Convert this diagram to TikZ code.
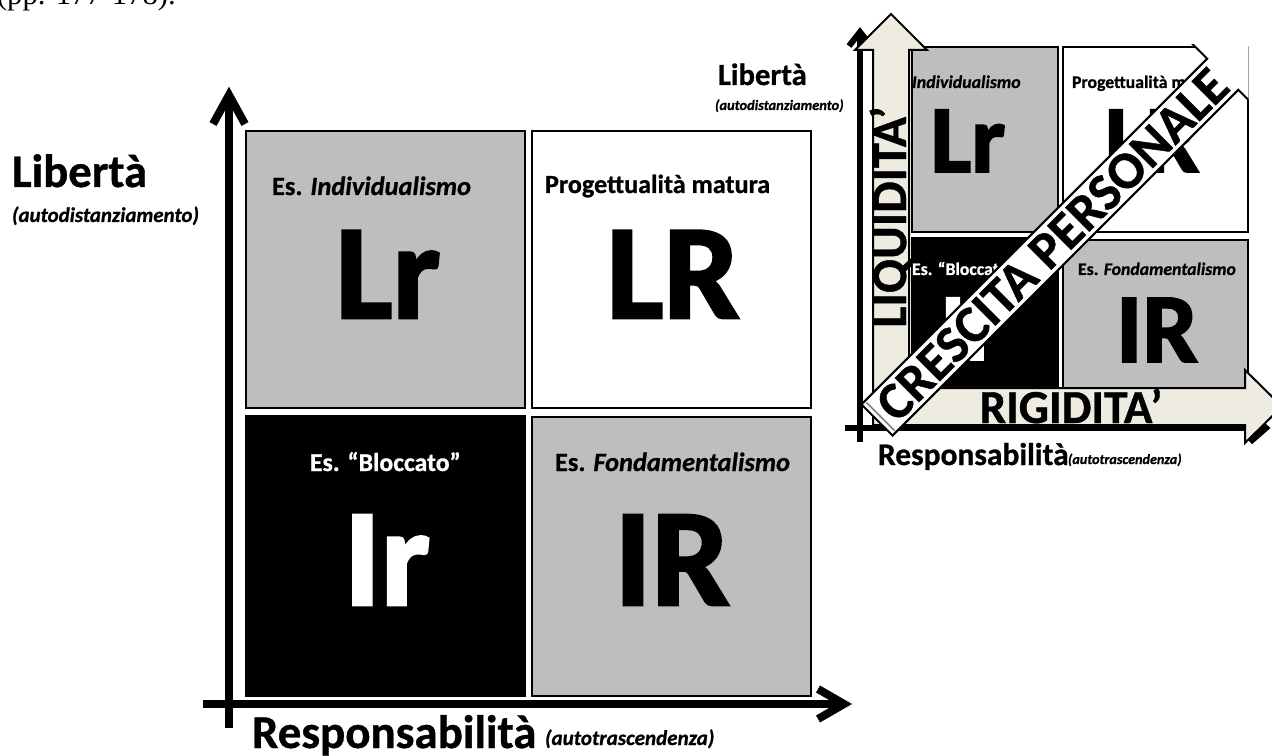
\documentclass[tikz,border=0pt]{standalone}
\usepackage{fontspec}
\setmainfont{Carlito}[BoldFeatures={FakeBold=0.8},BoldItalicFeatures={FakeBold=0.8}]
\newfontfamily\heavyfont{Carlito}[UprightFont=*-Bold,UprightFeatures={FakeBold=2}]
\newfontfamily\refserif{Liberation Serif}
\newcommand\myfs[1]{\fontsize{#1}{#1}\selectfont}
\definecolor{boxgray}{RGB}{190,190,190}
\definecolor{beige}{RGB}{238,235,224}
\begin{document}
\begin{tikzpicture}[x=0.75pt,y=-0.75pt,
  txt/.style={inner sep=0pt,outer sep=0pt},
  quad/.style={draw=black,line width=2.2pt},
  bigaxis/.style={line width=6pt,line join=miter},
  smallaxis/.style={line width=4.5pt,line join=miter},
  outl/.style={draw=black,line width=1.5pt}]
\clip (0,0) rectangle (1272,756);
\fill[white] (0,0) rectangle (1272,756);
% cut-off citation
\node[txt,anchor=base west,font=\refserif\myfs{23}] (cite) at (-3,5) {(pp. 177-178).};

% ---------- left diagram ----------
\coordinate (vb) at (229,728);
\coordinate (vt) at (229,95);
\coordinate (vl) at (213,124);
\coordinate (vr) at (245,124);
\coordinate (hl) at (203,704);
\coordinate (ht) at (844,704);
\coordinate (hu) at (818,689);
\coordinate (hd) at (818,719);
\draw[bigaxis] (vb) -- (vt);
\draw[bigaxis] (vl) -- (vt) -- (vr);
\draw[bigaxis] (hl) -- (ht);
\draw[bigaxis] (hu) -- (ht) -- (hd);

\draw[quad,fill=boxgray] (246,131) rectangle (525,408);
\draw[quad,fill=white] (532,131) rectangle (811,408);
\draw[quad,fill=black] (246,416) rectangle (525,696);
\draw[quad,fill=boxgray] (532,417) rectangle (811,696);

\node[txt,anchor=base west,font=\bfseries\myfs{19.8}] (l1) at (272,195) {Es. \textit{Individualismo}};
\node[txt,anchor=base west,font=\bfseries\myfs{19.6}] (l2) at (545,193) {Progettualità matura};
\node[txt,anchor=base west,font=\bfseries\myfs{19.3},text=white] (l3) at (310,471) {Es. “Bloccato”};
\node[txt,anchor=base west,font=\bfseries\myfs{19.8}] (l4) at (555,471) {Es. \textit{Fondamentalismo}};

\node[txt,anchor=base,font=\heavyfont\myfs{101}] (Lr) at (388,318) {Lr};
\node[txt,anchor=base,font=\heavyfont\myfs{101}] (LR) at (673,318) {LR};
\node[txt,anchor=base,font=\heavyfont\myfs{104},text=white] (Ir) at (387,605) {Ir};
\node[txt,anchor=base,font=\heavyfont\myfs{104}] (IR) at (672,605) {IR};

\node[txt,anchor=base west,font=\bfseries\myfs{35}] (lib) at (12,187) {Libertà};
\node[txt,anchor=base west,font=\bfseries\itshape\myfs{15.7}] (libs) at (12,222) {(autodistanziamento)};
\node[txt,anchor=base west,font=\bfseries\myfs{35.2}] (resp) at (252,748) {Responsabilità};
\node[txt,anchor=base west,font=\bfseries\itshape\myfs{15.8}] (resps) at (545,745) {(autotrascendenza)};

% ---------- right diagram ----------
\node[txt,anchor=base west,font=\bfseries\myfs{23}] (lib2) at (718,85) {Libertà};
\node[txt,anchor=base west,font=\bfseries\itshape\myfs{10.8}] (lib2s) at (715,110) {(autodistanziamento)};

\coordinate (rvb) at (860,442);
\coordinate (rvt) at (860,32);
\coordinate (rvl) at (849,46);
\coordinate (rvr) at (871,46);
\coordinate (rhl) at (845,428);
\coordinate (rht) at (1266,428);
\coordinate (rhu) at (1250,414);
\coordinate (rhd) at (1250,442);
\draw[smallaxis] (rvb) -- (rvt);
\draw[smallaxis] (rvl) -- (rvt) -- (rvr);
\draw[smallaxis] (rhl) -- (rht);
\draw[smallaxis] (rhu) -- (rht) -- (rhd);

\draw[quad,fill=boxgray] (912,47) rectangle (1058,232);
\draw[quad,fill=white] (1063,47) rectangle (1248,232);
\draw[quad,fill=black] (912,238) rectangle (1058,388);
\draw[quad,fill=boxgray] (1063,240) rectangle (1248,388);

\node[txt,anchor=base west,font=\bfseries\itshape\myfs{13.4}] (s1) at (912,88) {Individualismo};
\node[txt,anchor=base west,font=\bfseries\myfs{13.3}] (s2) at (1072,88) {Progettualità matura};
\node[txt,anchor=base west,font=\bfseries\myfs{13.3},text=white] (s3) at (912,275) {Es. “Bloccato”};
\node[txt,anchor=base west,font=\bfseries\myfs{13.3}] (s4) at (1078,275) {Es. \textit{Fondamentalismo}};

\node[txt,anchor=base,font=\heavyfont\myfs{72}] (sLr) at (968,172) {Lr};
\node[txt,anchor=base,font=\heavyfont\myfs{72}] (sLR) at (1152,172) {LR};
\node[txt,anchor=base,font=\heavyfont\myfs{72},text=white] (sIr) at (970,360) {Ir};
\node[txt,anchor=base,font=\heavyfont\myfs{74}] (sIR) at (1157,362) {IR};

% beige L-shaped arrows
\draw[outl,fill=beige,line join=miter] (873,425) -- (873,50) -- (855,50) -- (891,14) -- (927,50) -- (909,50)
  -- (909,388) -- (1245,388) -- (1245,370) -- (1282,406.5) -- (1245,443) -- (1245,425) -- cycle;
\node[txt,rotate=90,anchor=base,font=\bfseries\myfs{37.5}] (liq) at (906,217) {LIQUIDITA’};
\node[txt,anchor=base,font=\bfseries\myfs{35.5}] (rig) at (1071,423) {RIGIDITA’};

\node[txt,anchor=base west,font=\bfseries\myfs{23.6}] (resp2) at (878,465) {Responsabilità};
\node[txt,anchor=base west,font=\bfseries\itshape\myfs{10.6}] (resp2s) at (1068,464) {(autotrascendenza)};

% growth band
\begin{scope}
\clip (800,45) rectangle (1248.5,756);
\begin{scope}[shift={(877,420)},rotate=45]
\draw[outl,fill=white,line join=miter] (0,-22) -- (489,-22) -- (489,-50) -- (545,0) -- (489,50) -- (489,22) -- (0,22) -- cycle;
\draw[gray,line width=1.2pt] (5,-20) -- (5,20);
\node[txt,rotate=45,font=\bfseries\myfs{39.5}] (cp) at (248,0) {CRESCITA PERSONALE};
\end{scope}
\end{scope}
\end{tikzpicture}
\end{document}
